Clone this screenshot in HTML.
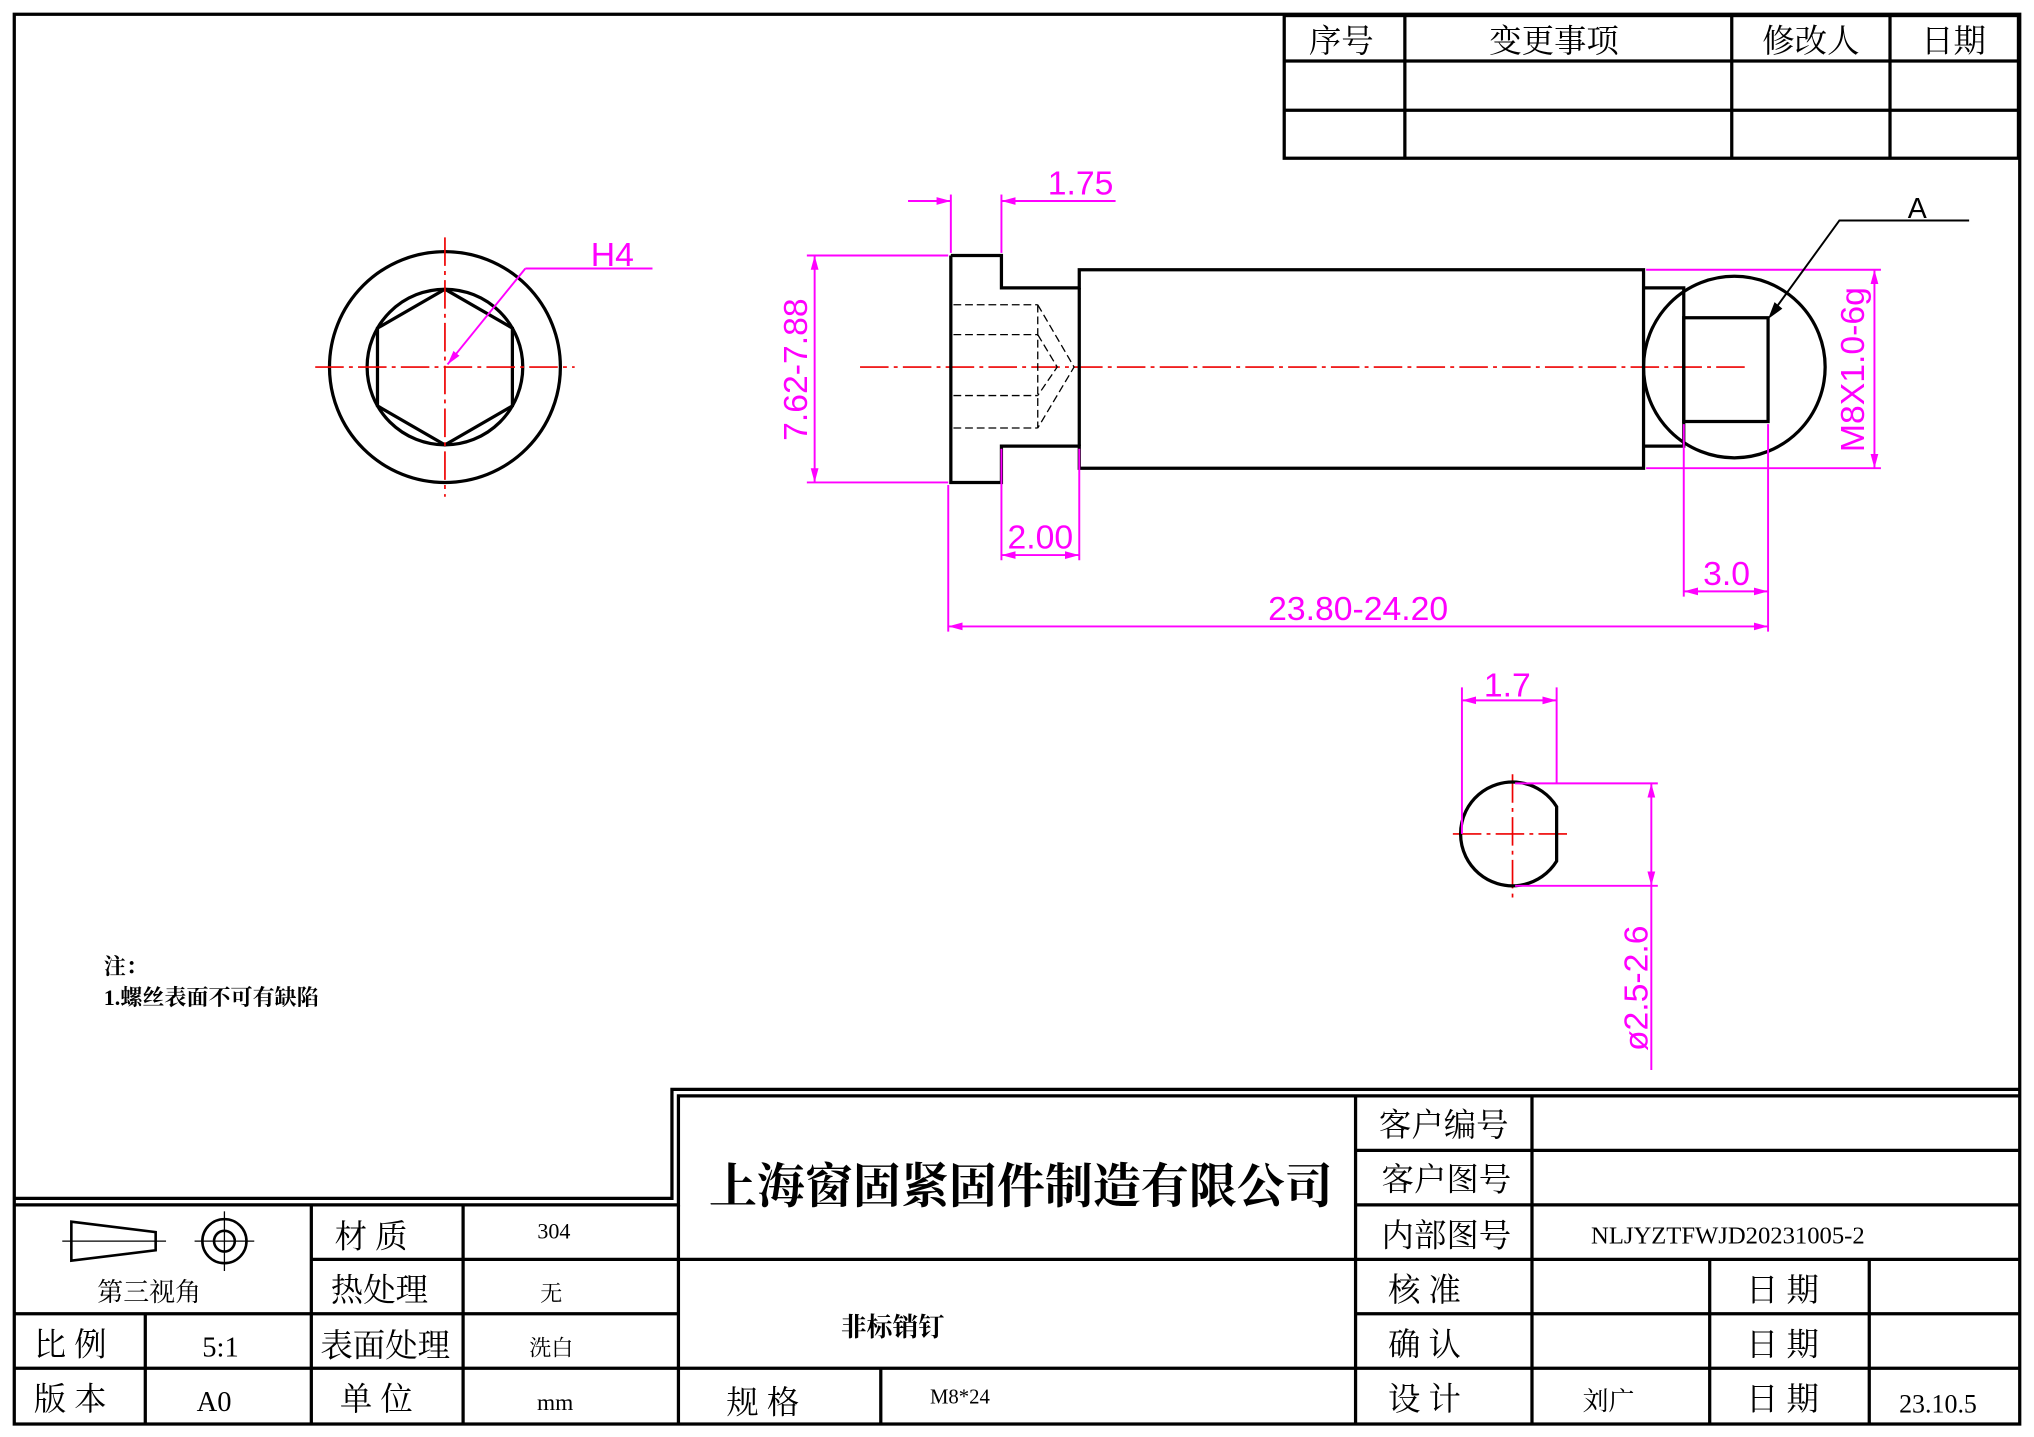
<!DOCTYPE html>
<html><head><meta charset="utf-8"><style>
html,body{margin:0;padding:0;background:#fff;}
svg{display:block;}
text{font-family:"Liberation Sans","Noto Sans CJK SC",sans-serif;}
.s text{font-family:"Liberation Serif","Noto Serif CJK SC",serif;}
</style></head><body>
<svg width="2034" height="1437" viewBox="0 0 1568 1108" preserveAspectRatio="none" xmlns="http://www.w3.org/2000/svg">
<defs>
<marker id="ar" markerWidth="12" markerHeight="8" refX="11" refY="4" orient="auto-start-reverse" markerUnits="userSpaceOnUse"><path d="M0,1 L11,4 L0,7 Z" fill="#f0f"/></marker>
</defs>
<rect width="1568" height="1108" fill="#fff"/>
<g fill="none" stroke="#000" stroke-width="2.5">
<rect x="11" y="11" width="1546" height="1087"/>
<rect x="990" y="12" width="566" height="110"/>
<line x1="990" y1="47" x2="1556" y2="47"/><line x1="990" y1="85" x2="1556" y2="85"/>
<line x1="1083" y1="12" x2="1083" y2="122"/><line x1="1335" y1="12" x2="1335" y2="122"/><line x1="1457" y1="12" x2="1457" y2="122"/>
<polyline points="11,924 518,924 518,840 1557,840"/>
<polyline points="11,929 523,929 523,845 1556,845"/>
<line x1="523" y1="929" x2="523" y2="1098"/>
<line x1="11" y1="1013" x2="523" y2="1013"/><line x1="11" y1="1055" x2="1556" y2="1055"/>
<line x1="240" y1="971" x2="523" y2="971"/>
<line x1="112" y1="1013" x2="112" y2="1098"/><line x1="240" y1="929" x2="240" y2="1098"/><line x1="357" y1="929" x2="357" y2="1098"/>
<line x1="523" y1="971" x2="1045" y2="971"/><line x1="679" y1="1055" x2="679" y2="1098"/>
<line x1="1045" y1="845" x2="1045" y2="1098"/>
<line x1="1045" y1="887" x2="1556" y2="887"/><line x1="1045" y1="929" x2="1556" y2="929"/><line x1="1045" y1="971" x2="1556" y2="971"/><line x1="1045" y1="1013" x2="1556" y2="1013"/>
<line x1="1181" y1="845" x2="1181" y2="1098"/><line x1="1318" y1="971" x2="1318" y2="1098"/><line x1="1441" y1="971" x2="1441" y2="1098"/>
</g>
<g fill="none" stroke="#000" stroke-width="2">
<polygon points="55,942 120,950 120,964 55,972"/>
<line x1="48" y1="957" x2="128" y2="957" stroke-width="1"/>
<circle cx="173" cy="957" r="17"/><circle cx="173" cy="957" r="8"/>
<line x1="150" y1="957" x2="196" y2="957" stroke-width="1"/><line x1="173" y1="934" x2="173" y2="980" stroke-width="1"/>
</g>
<g class="s" fill="#000">
<text x="1034" y="40" font-size="25" text-anchor="middle">序号</text>
<text x="1198" y="40" font-size="25" text-anchor="middle">变更事项</text>
<text x="1396" y="40" font-size="25" text-anchor="middle">修改人</text>
<text x="1506" y="40" font-size="25" text-anchor="middle">日期</text>
<text x="115" y="1003" font-size="20" text-anchor="middle">第三视角</text>
<text x="258" y="962" font-size="25">材 质</text><text x="427" y="955" font-size="17" text-anchor="middle">304</text>
<text x="255" y="1003" font-size="25">热处理</text><text x="425" y="1003" font-size="17" text-anchor="middle">无</text>
<text x="26" y="1045" font-size="25">比 例</text><text x="170" y="1046" font-size="22" text-anchor="middle">5:1</text>
<text x="247" y="1046" font-size="25">表面处理</text><text x="425" y="1045" font-size="17" text-anchor="middle">洗白</text>
<text x="26" y="1087" font-size="25">版 本</text><text x="165" y="1088" font-size="22" text-anchor="middle">A0</text>
<text x="262" y="1087" font-size="25">单 位</text><text x="428" y="1087" font-size="18" text-anchor="middle">mm</text>
<text x="787" y="927" font-size="37" font-weight="bold" text-anchor="middle">上海窗固紧固件制造有限公司</text>
<text x="688" y="1030" font-size="20" font-weight="bold" text-anchor="middle">非标销钉</text>
<text x="560" y="1090" font-size="25">规 格</text><text x="740" y="1082" font-size="16" text-anchor="middle">M8*24</text>
<text x="1113" y="876" font-size="25" text-anchor="middle">客户编号</text>
<text x="1115" y="918" font-size="25" text-anchor="middle">客户图号</text>
<text x="1115" y="961" font-size="25" text-anchor="middle">内部图号</text>
<text x="1332" y="959" font-size="19" text-anchor="middle">NLJYZTFWJD20231005-2</text>
<text x="1070" y="1003" font-size="25">核  准</text>
<text x="1070" y="1045" font-size="25">确  认</text>
<text x="1070" y="1087" font-size="25">设  计</text>
<text x="1240" y="1087" font-size="20" text-anchor="middle">刘广</text>
<text x="1346" y="1003" font-size="25">日 期</text>
<text x="1346" y="1045" font-size="25">日 期</text>
<text x="1346" y="1087" font-size="25">日 期</text>
<text x="1494" y="1089" font-size="20" text-anchor="middle">23.10.5</text>
<text x="80" y="751" font-size="17" font-weight="bold">注：</text>
<text x="80" y="775" font-size="17" font-weight="bold">1.螺丝表面不可有缺陷</text>
</g>
<g fill="none" stroke="#000" stroke-width="2.5">
<circle cx="343" cy="283" r="89"/><circle cx="343" cy="283" r="60"/>
<polygon points="343,223 395,253 395,313 343,343 291,313 291,253"/>
</g>
<g stroke="#e00" stroke-width="1.3" stroke-dasharray="22,4,3,4" fill="none">
<line x1="243" y1="283" x2="443" y2="283"/><line x1="343" y1="183" x2="343" y2="383"/>
<line x1="663" y1="283" x2="1345" y2="283"/>
<line x1="1120" y1="643" x2="1212" y2="643"/><line x1="1166" y1="597" x2="1166" y2="692"/>
</g>
<g fill="none" stroke="#000" stroke-width="2.5">
<polyline points="733,197 772,197 772,222 832,222 832,208 1267,208 1267,361 832,361 832,344 772,344 772,372 733,372 733,197"/>
<line x1="832" y1="222" x2="832" y2="344"/>
<polyline points="1267,222 1298,222 1298,344 1267,344"/>
<rect x="1298" y="245" width="65" height="80"/>
<circle cx="1337" cy="283" r="70"/>
<path d="M1200,622 A40,40 0 1,0 1200,664 Z"/>
</g>
<g fill="none" stroke="#000" stroke-width="1" stroke-dasharray="6,3">
<line x1="735" y1="235" x2="800" y2="235"/><line x1="735" y1="258" x2="800" y2="258"/>
<line x1="735" y1="305" x2="800" y2="305"/><line x1="735" y1="330" x2="800" y2="330"/>
<polyline points="800,235 828,283 800,330"/><line x1="800" y1="235" x2="800" y2="330"/>
<polyline points="800,258 815,283 800,305"/>
</g>
<g fill="none" stroke="#f0f" stroke-width="1.5">
<line x1="405" y1="207" x2="503" y2="207"/><line x1="405" y1="207" x2="345" y2="281" marker-end="url(#ar)"/>
<line x1="733" y1="150" x2="733" y2="195"/><line x1="772" y1="150" x2="772" y2="195"/>
<line x1="700" y1="155" x2="733" y2="155" marker-end="url(#ar)"/><line x1="860" y1="155" x2="772" y2="155" marker-end="url(#ar)"/>
<line x1="622" y1="197" x2="731" y2="197"/><line x1="622" y1="372" x2="731" y2="372"/>
<line x1="628" y1="197" x2="628" y2="372" marker-start="url(#ar)" marker-end="url(#ar)"/>
<line x1="772" y1="346" x2="772" y2="432"/><line x1="832" y1="346" x2="832" y2="432"/>
<line x1="772" y1="428" x2="832" y2="428" marker-start="url(#ar)" marker-end="url(#ar)"/>
<line x1="731" y1="374" x2="731" y2="487"/><line x1="1363" y1="327" x2="1363" y2="487"/>
<line x1="731" y1="483" x2="1363" y2="483" marker-start="url(#ar)" marker-end="url(#ar)"/>
<line x1="1298" y1="327" x2="1298" y2="460"/>
<line x1="1298" y1="456" x2="1363" y2="456" marker-start="url(#ar)" marker-end="url(#ar)"/>
<line x1="1269" y1="208" x2="1450" y2="208"/><line x1="1269" y1="361" x2="1450" y2="361"/>
<line x1="1445" y1="208" x2="1445" y2="361" marker-start="url(#ar)" marker-end="url(#ar)"/>
<line x1="1127" y1="530" x2="1127" y2="643"/><line x1="1200" y1="530" x2="1200" y2="604"/>
<line x1="1127" y1="540" x2="1200" y2="540" marker-start="url(#ar)" marker-end="url(#ar)"/>
<line x1="1168" y1="604" x2="1278" y2="604"/><line x1="1168" y1="683" x2="1278" y2="683"/>
<line x1="1273" y1="604" x2="1273" y2="683" marker-start="url(#ar)" marker-end="url(#ar)"/>
<line x1="1273" y1="683" x2="1273" y2="825"/>
</g>
<g fill="none" stroke="#000" stroke-width="1.5">
<polyline points="1518,170 1418,170 1365,243"/>
</g>
<path d="M1363,246 L1368,233 L1374,238 Z" fill="#000"/>
<g fill="#f0f" font-size="26">
<text x="472" y="205" text-anchor="middle">H4</text>
<text x="833" y="150" text-anchor="middle">1.75</text>
<text x="802" y="423" text-anchor="middle">2.00</text>
<text x="1047" y="478" text-anchor="middle">23.80-24.20</text>
<text x="1331" y="451" text-anchor="middle">3.0</text>
<text x="1162" y="537" text-anchor="middle">1.7</text>
<text transform="translate(622,285) rotate(-90)" text-anchor="middle">7.62-7.88</text>
<text transform="translate(1437,285) rotate(-90)" text-anchor="middle">M8X1.0-6g</text>
<text transform="translate(1270,762) rotate(-90)" text-anchor="middle">ø2.5-2.6</text>
</g>
<text x="1478" y="168" font-size="22" text-anchor="middle" fill="#000">A</text>
</svg>
</body></html>
